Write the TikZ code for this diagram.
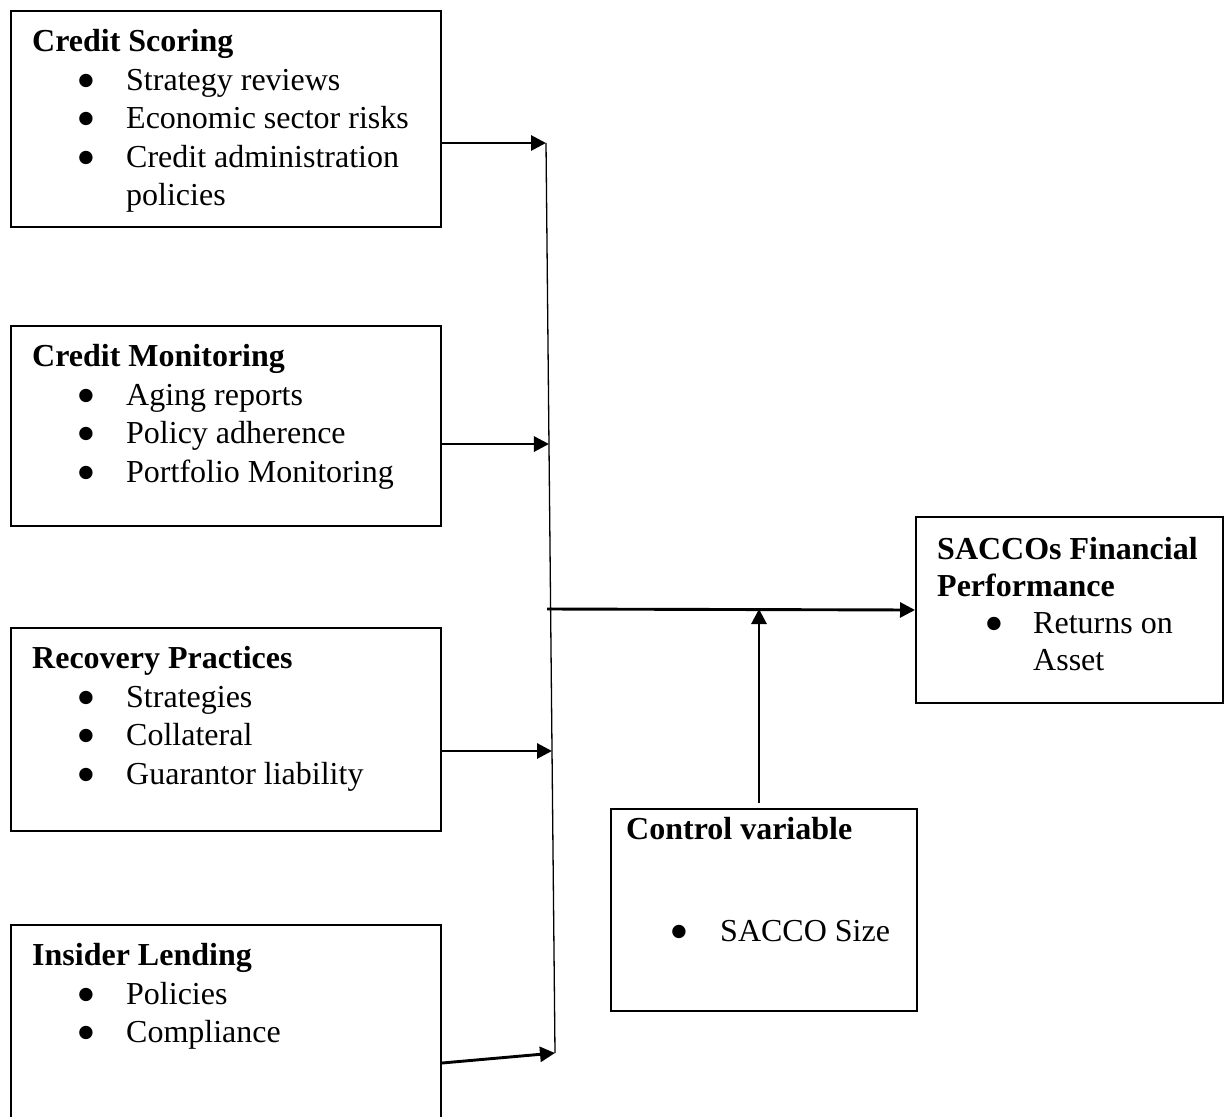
\documentclass[tikz,border=0pt]{standalone}
\usepackage{fontspec}
\setmainfont{Liberation Serif}
\newfontfamily\symfont{DejaVu Sans}
\usetikzlibrary{arrows.meta,calc}
\begin{document}
\begin{tikzpicture}[x=1pt,y=-1pt,
  box/.style={draw, line width=2pt, rectangle, inner sep=0pt, anchor=north west},
  txt/.style={anchor=base west, inner sep=0pt, font=\fontsize{32}{38}\selectfont},
  ttl/.style={anchor=base west, inner sep=0pt, font=\fontsize{32}{38}\selectfont\bfseries},
  bul/.style={anchor=center, inner sep=0pt, yshift=9.5pt, font=\fontsize{17.5}{19}\selectfont\symfont},
  arr/.style={line width=2.9pt, -{Triangle[length=15pt,width=15pt]}},
  thinline/.style={line width=1.3pt}]
\useasboundingbox (0,0) rectangle (1225,1116);
\clip (0,0) rectangle (1225,1116);

% boxes
\node[box, minimum width=430pt, minimum height=216pt] (cs) at (10,10) {};
\node[box, minimum width=430pt, minimum height=200pt] (cm) at (10,325) {};
\node[box, minimum width=430pt, minimum height=203pt] (rp) at (10,627) {};
\node[box, minimum width=430pt, minimum height=230pt] (il) at (10,924) {};
\node[box, minimum width=307pt, minimum height=186pt] (sf) at (915,516) {};
\node[box, minimum width=306pt, minimum height=202pt] (cv) at (610,808) {};

% Credit Scoring
\node[ttl] (cs0) at (32,51.5) {Credit Scoring};
\node[bul] (csb1) at (86,90) {●};
\node[txt] (cs1) at (126,90) {Strategy reviews};
\node[bul] (csb2) at (86,128.5) {●};
\node[txt] (cs2) at (126,128.5) {Economic sector risks};
\node[bul] (csb3) at (86,167) {●};
\node[txt] (cs3) at (126,167) {Credit administration};
\node[txt] (cs4) at (126,205.5) {policies};

% Credit Monitoring
\node[ttl] (cm0) at (32,366.5) {Credit Monitoring};
\node[bul] (cmb1) at (86,405) {●};
\node[txt] (cm1) at (126,405) {Aging reports};
\node[bul] (cmb2) at (86,443.5) {●};
\node[txt] (cm2) at (126,443.5) {Policy adherence};
\node[bul] (cmb3) at (86,482) {●};
\node[txt] (cm3) at (126,482) {Portfolio Monitoring};

% Recovery Practices
\node[ttl] (rp0) at (32,668.5) {Recovery Practices};
\node[bul] (rpb1) at (86,707) {●};
\node[txt] (rp1) at (126,707) {Strategies};
\node[bul] (rpb2) at (86,745.5) {●};
\node[txt] (rp2) at (126,745.5) {Collateral};
\node[bul] (rpb3) at (86,784) {●};
\node[txt] (rp3) at (126,784) {Guarantor liability};

% Insider Lending
\node[ttl] (il0) at (32,965.5) {Insider Lending};
\node[bul] (ilb1) at (86,1004) {●};
\node[txt] (il1) at (126,1004) {Policies};
\node[bul] (ilb2) at (86,1042.5) {●};
\node[txt] (il2) at (126,1042.5) {Compliance};

% SACCOs Financial Performance
\node[ttl] (sf0) at (937,559) {SACCOs Financial};
\node[ttl] (sf1) at (937,596) {Performance};
\node[bul] (sfb) at (994,633) {●};
\node[txt] (sf2) at (1033,633) {Returns on};
\node[txt] (sf3) at (1033,670) {Asset};

% Control variable
\node[ttl] (cv0) at (626,839) {Control variable};
\node[bul] (cvb) at (679,941) {●};
\node[txt] (cv1) at (720,941) {SACCO Size};

% connectors
\coordinate (vt) at (546,143);
\coordinate (vb) at (555,1053);
\coordinate (v2) at ($(vt)!0.3308!(vb)$);
\coordinate (v3) at ($(vt)!0.6681!(vb)$);
\coordinate (hm) at (547,609);
\draw[thinline] (vt) -- (vb);
\draw[arr] (cs.north east |- vt) -- (vt);
\draw[arr] (cm.north east |- v2) -- (v2);
\draw[arr] (rp.north east |- v3) -- (v3);
\draw[arr] ($(il.north east)+(0,139)$) -- (vb);
\draw[arr] (hm) -- (sf.west);
\draw[arr, shorten <=5pt] ([xshift=-5pt]cv.north) -- ([xshift=-5pt]cv.north |- hm);
\end{tikzpicture}
\end{document}
